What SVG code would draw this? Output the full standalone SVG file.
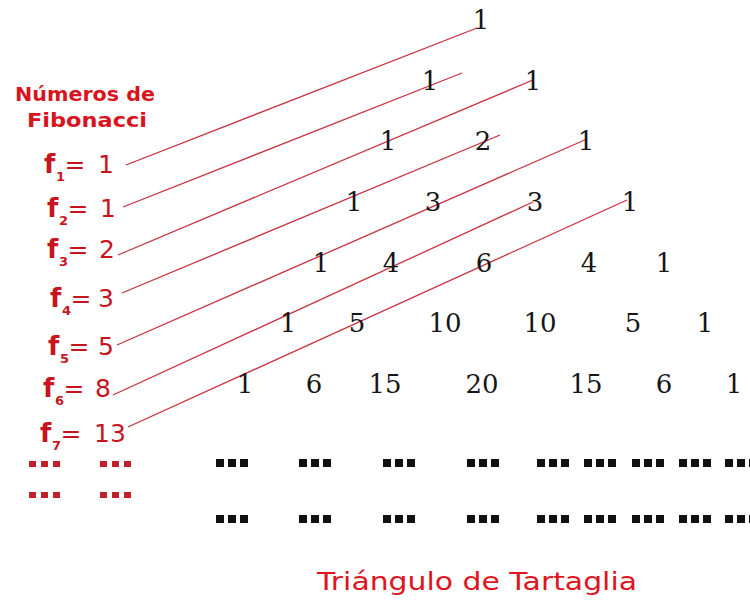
<svg xmlns="http://www.w3.org/2000/svg" xmlns:xlink="http://www.w3.org/1999/xlink" width="750" height="603" viewBox="0 0 750 603">
<style>
.num{font-family:"DejaVu Serif","Liberation Serif",serif;font-size:26px;fill:#151515;text-anchor:middle}
.f{font-family:"DejaVu Sans","Liberation Sans",sans-serif;font-weight:bold;font-size:26px;fill:#c8141e}
.sub{font-family:"DejaVu Sans","Liberation Sans",sans-serif;font-weight:bold;font-size:13px;fill:#c8141e}
.eq{font-family:"DejaVu Sans","Liberation Sans",sans-serif;font-size:25px;fill:#c8141e}
.hd{font-family:"DejaVu Sans","Liberation Sans",sans-serif;font-weight:bold;font-size:20px;fill:#d8141e}
.title{font-family:"DejaVu Sans","Liberation Sans",sans-serif;font-size:25px;fill:#e0141e}
.ln{stroke:#c83040;stroke-width:1.3;fill:none}
</style>
<defs>
<g id="bd"><rect x="0" y="0" width="8" height="8" fill="#111"/><rect x="12" y="0" width="8" height="8" fill="#111"/><rect x="24" y="0" width="8" height="8" fill="#111"/></g>
<g id="rd"><rect x="0" y="0" width="7" height="6" fill="#c0202a"/><rect x="12" y="0" width="7" height="6" fill="#c0202a"/><rect x="24" y="0" width="7" height="6" fill="#c0202a"/></g>
</defs>
<rect width="750" height="603" fill="#fff"/>
<g id="connectors">
<line class="ln" x1="126" y1="165" x2="477" y2="28"/>
<line class="ln" x1="123" y1="207" x2="462" y2="73"/>
<line class="ln" x1="118" y1="255" x2="533" y2="80"/>
<line class="ln" x1="122" y1="293" x2="500" y2="135"/>
<line class="ln" x1="117" y1="345" x2="587" y2="139"/>
<line class="ln" x1="113" y1="395" x2="533" y2="202"/>
<line class="ln" x1="128" y1="427" x2="627" y2="200"/>
</g>
<g id="heading"><text class="hd" x="85" y="101" text-anchor="middle" textLength="140" lengthAdjust="spacingAndGlyphs">Números de</text><text class="hd" x="87" y="127" text-anchor="middle" textLength="120" lengthAdjust="spacingAndGlyphs">Fibonacci</text></g>
<g id="f1"><text class="f" x="44" y="173">f</text><text class="sub" x="56" y="181">1</text><text class="eq" x="64.5" y="173">=</text><text class="eq" x="98" y="173">1</text></g>
<g id="f2"><text class="f" x="47" y="217">f</text><text class="sub" x="59" y="225">2</text><text class="eq" x="67.5" y="217">=</text><text class="eq" x="100" y="217">1</text></g>
<g id="f3"><text class="f" x="47" y="258">f</text><text class="sub" x="59" y="266">3</text><text class="eq" x="67.5" y="258">=</text><text class="eq" x="99" y="258">2</text></g>
<g id="f4"><text class="f" x="50" y="307">f</text><text class="sub" x="62" y="315">4</text><text class="eq" x="70.5" y="307">=</text><text class="eq" x="98" y="307">3</text></g>
<g id="f5"><text class="f" x="48" y="355">f</text><text class="sub" x="60" y="363">5</text><text class="eq" x="68.5" y="355">=</text><text class="eq" x="98" y="355">5</text></g>
<g id="f6"><text class="f" x="43" y="397">f</text><text class="sub" x="55" y="405">6</text><text class="eq" x="63.5" y="397">=</text><text class="eq" x="95" y="397">8</text></g>
<g id="f7"><text class="f" x="40" y="442">f</text><text class="sub" x="52" y="450">7</text><text class="eq" x="60.5" y="442">=</text><text class="eq" x="94" y="442">13</text></g>
<g id="fib-dots"><use xlink:href="#rd" x="29" y="461"/><use xlink:href="#rd" x="100" y="461"/><use xlink:href="#rd" x="29" y="492"/><use xlink:href="#rd" x="100" y="492"/></g>
<g id="row1"><text class="num" x="481" y="29">1</text></g>
<g id="row2"><text class="num" x="430" y="90">1</text><text class="num" x="533" y="90">1</text></g>
<g id="row3"><text class="num" x="388" y="150">1</text><text class="num" x="483" y="150">2</text><text class="num" x="586" y="150">1</text></g>
<g id="row4"><text class="num" x="354" y="211">1</text><text class="num" x="433" y="211">3</text><text class="num" x="535" y="211">3</text><text class="num" x="630" y="211">1</text></g>
<g id="row5"><text class="num" x="321" y="272">1</text><text class="num" x="391" y="272">4</text><text class="num" x="484" y="272">6</text><text class="num" x="589" y="272">4</text><text class="num" x="664" y="272">1</text></g>
<g id="row6"><text class="num" x="288" y="332">1</text><text class="num" x="357" y="332">5</text><text class="num" x="445" y="332">10</text><text class="num" x="540" y="332">10</text><text class="num" x="633" y="332">5</text><text class="num" x="705" y="332">1</text></g>
<g id="row7"><text class="num" x="245" y="393">1</text><text class="num" x="314" y="393">6</text><text class="num" x="385" y="393">15</text><text class="num" x="482" y="393">20</text><text class="num" x="586" y="393">15</text><text class="num" x="664" y="393">6</text><text class="num" x="734" y="393">1</text></g>
<g id="dots-row1"><use xlink:href="#bd" x="216" y="459"/><use xlink:href="#bd" x="299" y="459"/><use xlink:href="#bd" x="383" y="459"/><use xlink:href="#bd" x="467" y="459"/><use xlink:href="#bd" x="537" y="459"/><use xlink:href="#bd" x="584" y="459"/><use xlink:href="#bd" x="632" y="459"/><use xlink:href="#bd" x="679" y="459"/><use xlink:href="#bd" x="725" y="459"/></g>
<g id="dots-row2"><use xlink:href="#bd" x="216" y="515"/><use xlink:href="#bd" x="299" y="515"/><use xlink:href="#bd" x="383" y="515"/><use xlink:href="#bd" x="467" y="515"/><use xlink:href="#bd" x="537" y="515"/><use xlink:href="#bd" x="584" y="515"/><use xlink:href="#bd" x="632" y="515"/><use xlink:href="#bd" x="679" y="515"/><use xlink:href="#bd" x="725" y="515"/></g>
<g id="title"><text class="title" x="317" y="590" textLength="320" lengthAdjust="spacingAndGlyphs">Triángulo de Tartaglia</text></g>
</svg>
